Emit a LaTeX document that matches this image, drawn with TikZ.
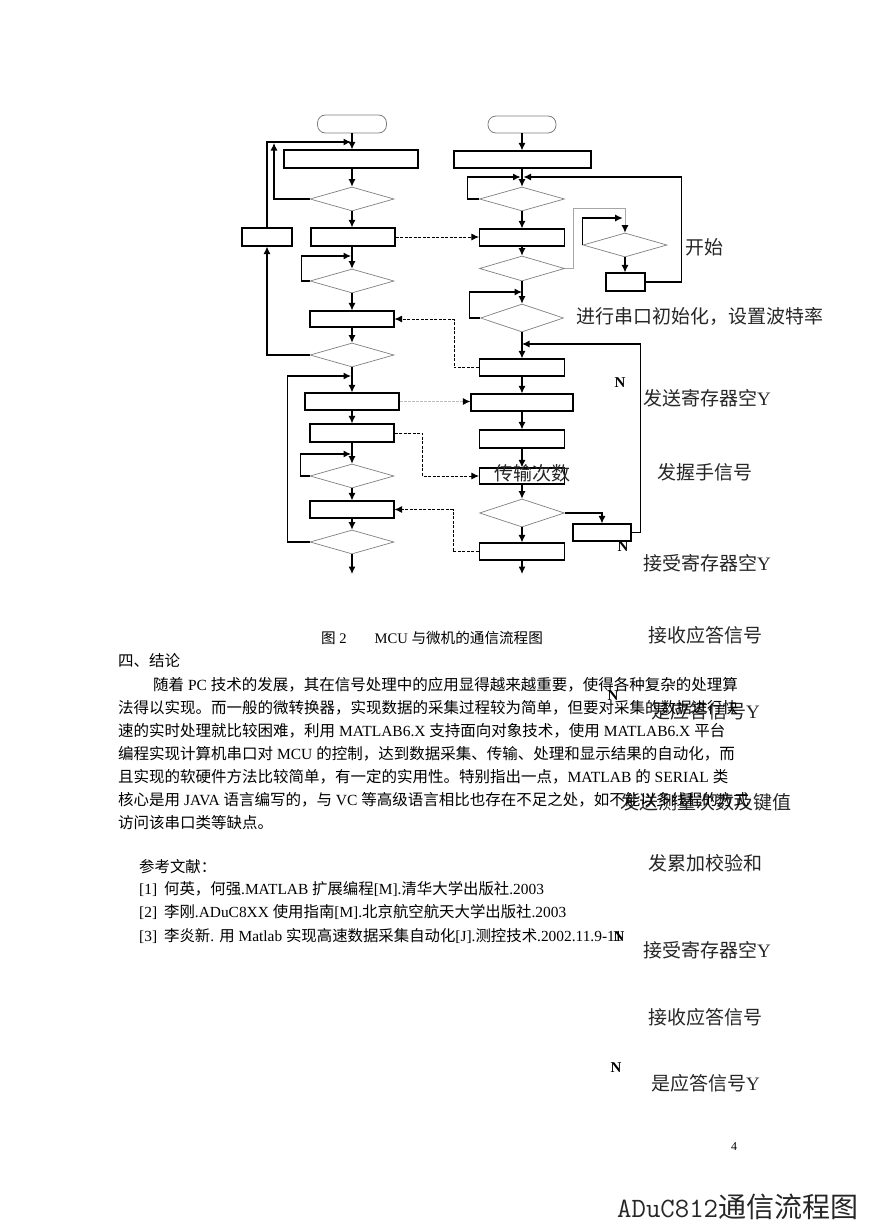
\documentclass[tikz,border=0pt]{standalone}
\usepackage{fontspec}
\setmainfont{Liberation Serif}
\newfontfamily\cjk{Noto Sans CJK SC}
\usetikzlibrary{shapes.geometric,arrows.meta}
\newXeTeXintercharclass\CJKcls
\newcount\tmpc
\def\setcls#1#2{\tmpc=#1\relax\loop\XeTeXcharclass\tmpc=\CJKcls\advance\tmpc by 1\relax\ifnum\tmpc<#2\repeat}
\setcls{"4E00}{"A000}
\setcls{"3000}{"3040}
\setcls{"FF00}{"FFF0}
\XeTeXinterchartoks 0 \CJKcls={\cjk}
\XeTeXinterchartoks 4095 \CJKcls={\cjk}
\XeTeXinterchartoks \CJKcls 0={\rmfamily}
\XeTeXinterchartoks \CJKcls 4095={\rmfamily}
\XeTeXinterchartokenstate=1
\tikzset{
  box/.style={draw,line width=1.1pt,inner sep=0pt},
  dia/.style={diamond,draw=gray,line width=0.7pt,inner sep=0pt},
  term/.style={draw=gray,line width=0.8pt,rounded corners=8pt,inner sep=0pt},
  tip/.style={-{Latex[length=7.5pt,width=7pt]}},
  conn/.style={line width=1.1pt,tip},
  gconn/.style={line width=1pt,draw=gray!70,-{Latex[length=7.5pt,width=7pt,color=black]}},
  dsh/.style={line width=0.9pt,dash pattern=on 3pt off 1.5pt,tip},
  gdsh/.style={line width=1pt,draw=gray!50,dash pattern=on 3pt off 1pt,-{Latex[length=7.5pt,width=7pt,color=black]}},
  lbl/.style={font=\fontsize{19}{22}\selectfont,text=black!85,inner sep=0pt,anchor=west},
  nl/.style={font=\bfseries\fontsize{15}{17}\selectfont,inner sep=0pt},
  body/.style={font=\fontsize{15.5}{18}\selectfont,inner sep=0pt,anchor=west},
  refl/.style={font=\fontsize{15.4}{18}\selectfont,inner sep=0pt,anchor=west},
}
\begin{document}
\begin{tikzpicture}[x=1pt,y=-1pt]
\fill[white] (0,0) rectangle (868,1228);
\useasboundingbox (0,0) rectangle (868,1228);
% ---------- left column ----------
\node[term,minimum width=69pt,minimum height=18pt] (Ls) at (352,124) {};
\node[box,minimum width=134pt,minimum height=18pt] (L1) at (351,159) {};
\node[dia,minimum width=84pt,minimum height=24pt] (Ld1) at (352,199) {};
\node[box,minimum width=84pt,minimum height=18pt] (L2) at (353,237) {};
\node[box,minimum width=50pt,minimum height=18pt] (Lsmall) at (267,237) {};
\node[dia,minimum width=84pt,minimum height=24pt] (Ld2) at (352,281) {};
\node[box,minimum width=84pt,minimum height=16pt] (L3) at (352,319) {};
\node[dia,minimum width=84pt,minimum height=24pt] (Ld3) at (352,355) {};
\node[box,minimum width=94pt,minimum height=17pt] (L4) at (352,401.5) {};
\node[box,minimum width=84pt,minimum height=18pt] (L5) at (352,433) {};
\node[dia,minimum width=84pt,minimum height=24pt] (Ld4) at (352,476) {};
\node[box,minimum width=84pt,minimum height=17pt] (L6) at (352,509.5) {};
\node[dia,minimum width=84pt,minimum height=24pt] (Ld5) at (352,542) {};
\coordinate (jA) at (351,142);
\coordinate (jB) at (274,143);
\coordinate (j2) at (351,256);
\coordinate (j3) at (351,376);
\coordinate (j4) at (351,454);
\coordinate (Lend) at (352,574);
% ---------- middle column ----------
\node[term,minimum width=68pt,minimum height=17pt] (Ms) at (522,124.5) {};
\node[box,minimum width=137pt,minimum height=17pt] (M1) at (522.5,159.5) {};
\node[dia,minimum width=85pt,minimum height=24pt] (Md1) at (522,199) {};
\node[box,minimum width=85pt,minimum height=17pt] (M2) at (522,237.5) {};
\node[dia,minimum width=85pt,minimum height=25pt] (Md2) at (522,268.5) {};
\node[dia,minimum width=83pt,minimum height=28pt] (Md3) at (522,318) {};
\node[box,minimum width=85pt,minimum height=17pt] (M5) at (522,367.5) {};
\node[box,minimum width=102pt,minimum height=17pt] (M6) at (522,402.5) {};
\node[box,minimum width=85pt,minimum height=18pt] (M7) at (522,439) {};
\node[box,minimum width=85pt,minimum height=16pt] (M8) at (522,476) {};
\node[dia,minimum width=85pt,minimum height=28pt] (Md5) at (522,513) {};
\node[box,minimum width=85pt,minimum height=17pt] (M10) at (522,551.5) {};
\node[dia,minimum width=84pt,minimum height=24pt] (Rd) at (625,245) {};
\node[box,minimum width=39pt,minimum height=18pt] (Rbox) at (625.5,282) {};
\node[box,minimum width=58pt,minimum height=17pt] (Nbox) at (602,532.5) {};
\coordinate (jML) at (520.5,177);
\coordinate (jMR) at (523.5,177);
\coordinate (jM2) at (522,292);
\coordinate (jM3) at (522,344);
\coordinate (Mend) at (522,574);
% ---------- left connectors ----------
\draw[conn] (Ls.south) -- (L1.north -| Ls.south);
\draw[conn] (Lsmall.north) |- (jA);
\draw[conn] (Ld1.west) -| (jB);
\draw[conn] (L1.south -| Ld1.north) -- (Ld1.north);
\draw[conn] (Ld1.south) -- (L2.north -| Ld1.south);
\draw[conn] (L2.south -| Ld2.north) -- (Ld2.north);
\draw[conn] (Ld2.west) -- ++(-8,0) |- (j2);
\draw[conn] (Ld2.south) -- (L3.north);
\draw[conn] (L3.south) -- (Ld3.north);
\draw[conn] (Ld3.west) -| (Lsmall.south);
\draw[conn] (Ld3.south) -- (L4.north);
\draw[conn] (Ld5.west) -- ++(-22,0) |- (j3);
\draw[conn] (L4.south) -- (L5.north);
\draw[conn] (L5.south) -- (Ld4.north);
\draw[conn] (Ld4.west) -- ++(-9,0) |- (j4);
\draw[conn] (Ld4.south) -- (L6.north);
\draw[conn] (L6.south) -- (Ld5.north);
\draw[conn] (Ld5.south) -- (Lend);
% ---------- dashed links ----------
\draw[dsh] (L2.east) -- (L2.east -| M2.west);
\draw[dsh] (M5.west) -- ++(-25,0) |- (L3.east);
\draw[gdsh] (L4.east) -- (L4.east -| M6.west);
\draw[dsh] (L5.east) -- ++(28,0) |- (M8.west);
\draw[dsh] (M10.west) -- ++(-26,0) |- (L6.east);
% ---------- middle connectors ----------
\draw[conn] (Ms.south) -- (M1.north -| Ms.south);
\draw[conn] (M1.south -| Md1.north) -- (Md1.north);
\draw[conn] (Md1.west) -- ++(-12,0) |- (jML);
\draw[conn] (Rbox.east) -- ++(36,0) |- (jMR);
\draw[conn] (Md1.south) -- (M2.north);
\draw[conn] (M2.south) -- (Md2.north);
\draw[gconn] (Md2.east) -- ++(9,0) -- ++(0,-60.5) -| (Rd.north);
\draw[conn] (Rd.west) |- ++(40,-27);
\draw[conn] (Rd.south) -- (Rbox.north -| Rd.south);
\draw[conn] (Md2.south) -- (Md3.north);
\draw[conn] (Md3.west) -- ++(-11,0) |- (jM2);
\draw[conn] (Md3.south) -- (M5.north);
\draw[conn] (Nbox.east) -- ++(9,0) |- (jM3);
\draw[conn] (M5.south) -- (M6.north);
\draw[conn] (M6.south) -- (M7.north);
\draw[conn] (M7.south) -- (M8.north);
\draw[conn] (M8.south) -- (Md5.north);
\draw[conn] (Md5.east) -| (Nbox.north);
\draw[conn] (Md5.south) -- (M10.north);
\draw[conn] (M10.south) -- (Mend);
% ---------- overlay labels ----------
\node[lbl,anchor=center] (t0) at (704,247) {开始};
\node[lbl] (t1) at (576,316) {进行串口初始化，设置波特率};
\node[nl] (n1) at (620,383) {N};
\node[lbl] (t2) at (643,398) {发送寄存器空Y};
\node[lbl,anchor=center] (t3) at (532,473) {传输次数};
\node[lbl] (t4) at (657,472) {发握手信号};
\node[nl] (n2) at (623,547) {N};
\node[lbl] (t5) at (643,563) {接受寄存器空Y};
\node[lbl] (t6) at (648,635) {接收应答信号};
\node[nl] (n3) at (613,696) {N};
\node[lbl] (t7) at (651,711) {是应答信号Y};
\node[lbl] (t8) at (620,802) {发送测量次数及键值};
\node[lbl] (t9) at (648,863) {发累加校验和};
\node[nl] (n4) at (619,937) {N};
\node[lbl] (t10) at (643,950) {接受寄存器空Y};
\node[lbl] (t11) at (648,1017) {接收应答信号};
\node[nl] (n5) at (616,1068) {N};
\node[lbl] (t12) at (651,1083) {是应答信号Y};
\node[font=\fontsize{12}{14}\selectfont,inner sep=0pt] (pg) at (734,1147) {4};
\node[font=\ttfamily\fontsize{28}{32}\selectfont,text=black!85,inner sep=0pt,anchor=west] (ttl) at (617,1207) {ADuC812通信流程图};
% ---------- page text ----------
\node[font=\fontsize{14.6}{17}\selectfont,inner sep=0pt] (cap) at (432,638) {图 2\hspace{28pt}MCU 与微机的通信流程图};
\node[body] (b0) at (118,661) {四、结论};
\node[body] (b1) at (153,685) {随着 PC 技术的发展，其在信号处理中的应用显得越来越重要，使得各种复杂的处理算};
\node[body] (b2) at (118,708) {法得以实现。而一般的微转换器，实现数据的采集过程较为简单，但要对采集的数据进行快};
\node[body] (b3) at (118,731) {速的实时处理就比较困难，利用 MATLAB6.X 支持面向对象技术，使用 MATLAB6.X 平台};
\node[body] (b4) at (118,754) {编程实现计算机串口对 MCU 的控制，达到数据采集、传输、处理和显示结果的自动化，而};
\node[body] (b5) at (118,777) {且实现的软硬件方法比较简单，有一定的实用性。特别指出一点，MATLAB 的 SERIAL 类};
\node[body] (b6) at (118,800) {核心是用 JAVA 语言编写的，与 VC 等高级语言相比也存在不足之处，如不能以多线程的方式};
\node[body] (b7) at (118,823) {访问该串口类等缺点。};
\node[refl] (r0) at (139,867) {参考文献：};
\node[refl] (r1) at (139,889) {[1]\hspace{7pt}何英，何强.MATLAB 扩展编程[M].清华大学出版社.2003};
\node[refl] (r2) at (139,912) {[2]\hspace{7pt}李刚.ADuC8XX 使用指南[M].北京航空航天大学出版社.2003};
\node[refl] (r3) at (139,936) {[3]\hspace{7pt}李炎新. 用 Matlab 实现高速数据采集自动化[J].测控技术.2002.11.9-11};
\end{tikzpicture}
\end{document}
